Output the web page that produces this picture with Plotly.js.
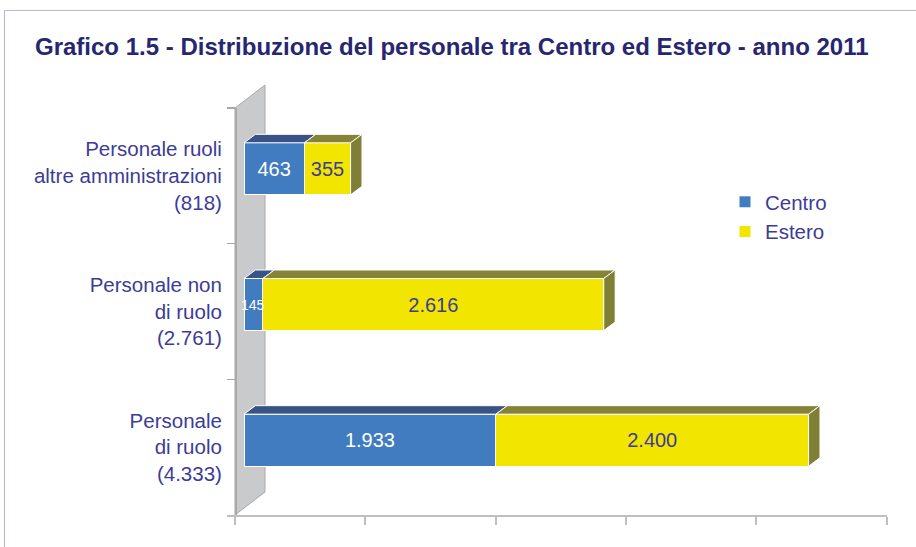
<!DOCTYPE html>
<html>
<head>
<meta charset="utf-8">
<script src="https://cdn.plot.ly/plotly-3.0.1.min.js"></script>
<style>html,body{margin:0;padding:0;background:#fff;}#chart{width:916px;height:547px;}</style>
</head>
<body>
<div id="chart"></div>
<script>
// ---- data ----
const categoryNames = ["Personale ruoli<br>altre amministrazioni", "Personale non<br>di ruolo", "Personale<br>di ruolo"];
const seriesNames = ["Centro", "Estero"];
const centro = [463, 145, 1933];
const estero = [355, 2616, 2400];
const axisTickValues = [0, 1000, 2000, 3000, 4000, 5000];

// ---- helpers ----
const fmt = n => String(n).replace(/\B(?=(\d{3})+(?!\d))/g, ".");
const totals = centro.map((c, i) => c + estero[i]);
const categories = categoryNames.map((n, i) => n + "<br>(" + fmt(totals[i]) + ")");

// ---- geometry (pixels of the 916x547 page) ----
const W = 916, H = 547;
const xDomPx = [227, 887];
const kx = 0.1303;            // px per unit
const barZeroPx = 244;        // front face of bars at value 0
const floorZeroPx = 235;      // front edge of the floor at value 0
const yDomPx = [108, 515];
const ky = (yDomPx[1] - yDomPx[0]) / categories.length; // px per category
const barH = 52, barShiftPx = 7;
const depthDx = 11.4, depthDy = 8.5;
const px2paperX = p => p / W;
const px2paperY = p => 1 - p / H;

const xRange = [(xDomPx[0] - barZeroPx) / kx, (xDomPx[1] - barZeroPx) / kx];
const tickShift = (floorZeroPx - barZeroPx) / kx;
const barWidth = barH / ky;
const barOffset = -barWidth / 2 - barShiftPx / ky;
const dxU = depthDx / kx, dyU = depthDy / ky;

const colors = {
  centroFront: "#417bc0", centroTop: "#3a5387",
  esteroFront: "#f2e500", esteroTop: "#848337", esteroSide: "#7f7f35"
};
const navy = "#3c3c98";
const font = "Liberation Sans, Arial, sans-serif";
const narrow = v => v * kx < 30;   // bars too narrow for a full-size label

const traces = [
  {
    type: "bar", orientation: "h", name: seriesNames[0],
    y: categories, x: centro,
    text: centro.map(v => narrow(v) ? "" : fmt(v)),
    textposition: "inside", insidetextanchor: "middle", textangle: 0,
    textfont: {family: font, size: 20, color: "#ffffff"},
    width: barWidth, offset: barOffset,
    marker: {color: colors.centroFront, line: {color: "#ffffff", width: 1}},
    hoverinfo: "skip"
  },
  {
    type: "bar", orientation: "h", name: seriesNames[1],
    y: categories, x: estero,
    text: estero.map(fmt), textposition: "inside", insidetextanchor: "middle", textangle: 0,
    textfont: {family: font, size: 20, color: navy},
    width: barWidth, offset: barOffset,
    marker: {color: colors.esteroFront, line: {color: "#ffffff", width: 1}},
    hoverinfo: "skip"
  }
];

// labels of narrow bars, placed at the bar middle
const annotations = [];
centro.forEach((v, i) => {
  if (narrow(v)) annotations.push({
    x: v / 2, y: categories[i], xref: "x", yref: "y", showarrow: false,
    yshift: barShiftPx, text: fmt(v),
    font: {family: font, size: 14, color: "#ffffff"}
  });
});

// ---- 3D faces computed from the data ----
const shapes = [];
// frame
shapes.push({type: "rect", xref: "paper", yref: "paper",
  x0: px2paperX(4.5), x1: 1.05, y0: -0.05, y1: px2paperY(10.5),
  line: {color: "#b6b6dc", width: 1}, fillcolor: "rgba(0,0,0,0)", layer: "below"});
// wall
const wall = [[235, 515], [235, 108], [265, 85], [265, 492]];
shapes.push({type: "path", xref: "paper", yref: "paper", layer: "below",
  path: "M" + wall.map(p => px2paperX(p[0]) + "," + px2paperY(p[1])).join(" L") + " Z",
  fillcolor: "#c9cacc", line: {color: "#a8a8a8", width: 1}});

const poly = pts => "M" + pts.map(p => p[0] + "," + p[1]).join(" L") + " Z";
categories.forEach((cat, i) => {
  const yTop = i + barOffset;            // top edge (axis reversed)
  const yBot = yTop + barWidth;
  const segs = [[0, centro[i], colors.centroTop], [centro[i], totals[i], colors.esteroTop]];
  segs.forEach(s => {
    shapes.push({type: "path", xref: "x", yref: "y", layer: "above",
      path: poly([[s[0], yTop], [s[0] + dxU, yTop - dyU], [s[1] + dxU, yTop - dyU], [s[1], yTop]]),
      fillcolor: s[2], line: {color: "#ffffff", width: 1}});
  });
  const e = totals[i];
  shapes.push({type: "path", xref: "x", yref: "y", layer: "above",
    path: poly([[e, yTop], [e + dxU, yTop - dyU], [e + dxU, yBot - dyU], [e, yBot]]),
    fillcolor: colors.esteroSide, line: {color: "#ffffff", width: 1}});
});

const layout = {
  width: W, height: H,
  margin: {l: 0, r: 0, t: 0, b: 0},
  paper_bgcolor: "#ffffff", plot_bgcolor: "rgba(0,0,0,0)",
  separators: ",.",
  barmode: "stack",
  hovermode: false,
  showlegend: true,
  title: {
    text: "Grafico 1.5 - Distribuzione del personale tra Centro ed Estero - anno 2011",
    x: 35 / W, xanchor: "left", xref: "container",
    y: 1 - 47 / H, yanchor: "middle", yref: "container",
    font: {family: font, size: 24, color: "#262671", weight: "bold"}
  },
  xaxis: {
    domain: [px2paperX(xDomPx[0]), px2paperX(xDomPx[1])],
    range: xRange, anchor: "y",
    tickmode: "array", tickvals: axisTickValues.map(v => v + tickShift),
    showticklabels: false, ticks: "outside", ticklen: 8, tickwidth: 2, tickcolor: "#bfbfbf",
    showline: true, linecolor: "#bfbfbf", linewidth: 2,
    showgrid: false, zeroline: false, fixedrange: true
  },
  yaxis: {
    domain: [px2paperY(yDomPx[1]), px2paperY(yDomPx[0])],
    type: "category", categoryorder: "array", categoryarray: categories,
    range: [categories.length - 0.5, -0.5],
    anchor: "free", position: px2paperX(floorZeroPx),
    tickson: "boundaries", ticks: "outside", ticklen: 8, tickwidth: 1.5, tickcolor: "#a9a9a9",
    ticklabelstandoff: 9,
    showline: true, linecolor: "#a9a9a9", linewidth: 1.5,
    tickfont: {family: font, size: 20.5, color: navy},
    showgrid: false, zeroline: false, fixedrange: true
  },
  legend: {
    x: 725 / W, xanchor: "left", y: 1 - 182 / H, yanchor: "top",
    traceorder: "normal", bgcolor: "rgba(0,0,0,0)",
    font: {family: font, size: 20.5, color: navy}, itemwidth: 30, tracegroupgap: 0
  },
  annotations: annotations,
  shapes: shapes
};

Plotly.newPlot("chart", traces, layout, {displayModeBar: false, staticPlot: true});
</script>
</body>
</html>
